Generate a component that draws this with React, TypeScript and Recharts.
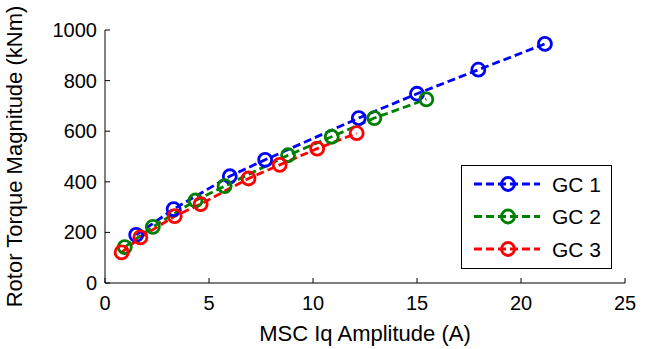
import React from "react";
import { LineChart, Line, XAxis, YAxis, Legend } from "recharts";

const gc1X = [1.5, 3.3, 6.0, 7.7, 12.2, 15.0, 17.95, 21.15];
const gc1Y = [190, 292, 422, 487, 652, 748, 843, 945];
const gc2X = [0.95, 2.3, 4.35, 5.75, 8.8, 10.9, 12.95, 15.45];
const gc2Y = [142, 222, 326, 383, 505, 578, 652, 726];
const gc3X = [0.8, 1.7, 3.35, 4.6, 6.9, 8.4, 10.2, 12.1];
const gc3Y = [121, 180, 264, 312, 413, 467, 531, 592];

const xTicks = [0, 5, 10, 15, 20, 25];
const yTicks = [0, 200, 400, 600, 800, 1000];

const seriesNames = ["GC 1", "GC 2", "GC 3"];
const seriesColors = ["#0000ff", "#008000", "#ff0000"];

const toPoints = (xs: number[], ys: number[]) => xs.map((x, i) => ({ x, y: ys[i] }));
const seriesData = [toPoints(gc1X, gc1Y), toPoints(gc2X, gc2Y), toPoints(gc3X, gc3Y)];

const FONT = "'Liberation Sans', Arial, sans-serif";
const TICK_LEN = 5;
const DASH = "8 4";
const LINE_W = 2.8;

const BottomTick = (props: any) => {
  const { x, y, payload } = props;
  return (
    <g>
      <line x1={x} y1={y} x2={x} y2={y - TICK_LEN} stroke="#000" strokeWidth={1} />
      <text x={x} y={y + 27} textAnchor="middle" fontSize={20} fontFamily={FONT} fill="#000">
        {payload.value}
      </text>
    </g>
  );
};

const TopTick = (props: any) => {
  const { x, y } = props;
  return <line x1={x} y1={y} x2={x} y2={y + TICK_LEN} stroke="#000" strokeWidth={1} />;
};

const LeftTick = (props: any) => {
  const { x, y, payload } = props;
  return (
    <g>
      <line x1={x} y1={y} x2={x + TICK_LEN} y2={y} stroke="#000" strokeWidth={1} />
      <text x={x - 8} y={y + 7} textAnchor="end" fontSize={20} fontFamily={FONT} fill="#000">
        {payload.value}
      </text>
    </g>
  );
};

const RightTick = (props: any) => {
  const { x, y } = props;
  return <line x1={x} y1={y} x2={x - TICK_LEN} y2={y} stroke="#000" strokeWidth={1} />;
};

const LegendContent = () => (
  <div
    style={{
      width: 151,
      height: 104,
      background: "#fff",
      border: "1px solid #000",
      boxSizing: "border-box",
    }}
  >
    <svg width={149} height={102} style={{ display: "block" }}>
      {seriesNames.map((name, i) => {
        const cy = 18 + i * 32.5;
        return (
          <g key={name}>
            <line x1={12} y1={cy} x2={78} y2={cy} stroke={seriesColors[i]} strokeWidth={LINE_W} strokeDasharray={DASH} />
            <circle cx={46} cy={cy} r={6.5} fill="none" stroke={seriesColors[i]} strokeWidth={LINE_W} />
            <text x={90} y={cy + 7.5} fontSize={21} fontFamily={FONT} fill="#000">
              {name}
            </text>
          </g>
        );
      })}
    </svg>
  </div>
);

export default function App() {
  return (
    <div style={{ position: "absolute", left: 0, top: 0, width: 655, height: 349, background: "#fff" }}>
      <LineChart width={655} height={349} margin={{ top: 30, right: 30, bottom: 36, left: 0 }}>
        <XAxis
          xAxisId="b"
          type="number"
          dataKey="x"
          domain={[0, 25]}
          ticks={xTicks}
          orientation="bottom"
          height={30}
          tickSize={0}
          tickMargin={0}
          tickLine={false}
          axisLine={{ stroke: "#000", strokeWidth: 1 }}
          tick={<BottomTick />}
          label={{
            value: "MSC Iq Amplitude (A)",
            position: "insideBottom",
            offset: -28,
            fontSize: 22,
            fontFamily: FONT,
            fill: "#000",
          }}
          allowDataOverflow
        />
        <XAxis
          xAxisId="t"
          type="number"
          dataKey="x"
          domain={[0, 25]}
          ticks={xTicks}
          orientation="top"
          height={0}
          tickSize={0}
          tickMargin={0}
          tickLine={false}
          axisLine={{ stroke: "#000", strokeWidth: 1 }}
          tick={<TopTick />}
          allowDataOverflow
        />
        <YAxis
          yAxisId="l"
          type="number"
          domain={[0, 1000]}
          ticks={yTicks}
          orientation="left"
          width={105}
          tickSize={0}
          tickMargin={0}
          tickLine={false}
          axisLine={{ stroke: "#000", strokeWidth: 1 }}
          tick={<LeftTick />}
          label={{
            value: "Rotor Torque Magnitude (kNm)",
            angle: -90,
            position: "insideLeft",
            offset: 14,
            fontSize: 22,
            fontFamily: FONT,
            fill: "#000",
            style: { textAnchor: "middle" },
          }}
          allowDataOverflow
        />
        <YAxis
          yAxisId="r"
          type="number"
          domain={[0, 1000]}
          ticks={yTicks}
          orientation="right"
          width={0}
          tickSize={0}
          tickMargin={0}
          tickLine={false}
          axisLine={{ stroke: "#000", strokeWidth: 1 }}
          tick={<RightTick />}
          allowDataOverflow
        />
        <Legend
          layout="vertical"
          align="center"
          verticalAlign="middle"
          content={<LegendContent />}
          wrapperStyle={{ position: "absolute", left: 461, top: 165, width: 151, height: 104 }}
        />
        {seriesData.map((d, i) => (
          <Line
            key={seriesNames[i]}
            xAxisId="b"
            yAxisId="l"
            data={d}
            dataKey="y"
            name={seriesNames[i]}
            type="linear"
            stroke={seriesColors[i]}
            strokeWidth={LINE_W}
            strokeDasharray={DASH}
            dot={{ r: 6.5, fill: "none", stroke: seriesColors[i], strokeWidth: LINE_W, strokeDasharray: "" }}
            activeDot={false}
            isAnimationActive={false}
          />
        ))}
      </LineChart>
    </div>
  );
}
